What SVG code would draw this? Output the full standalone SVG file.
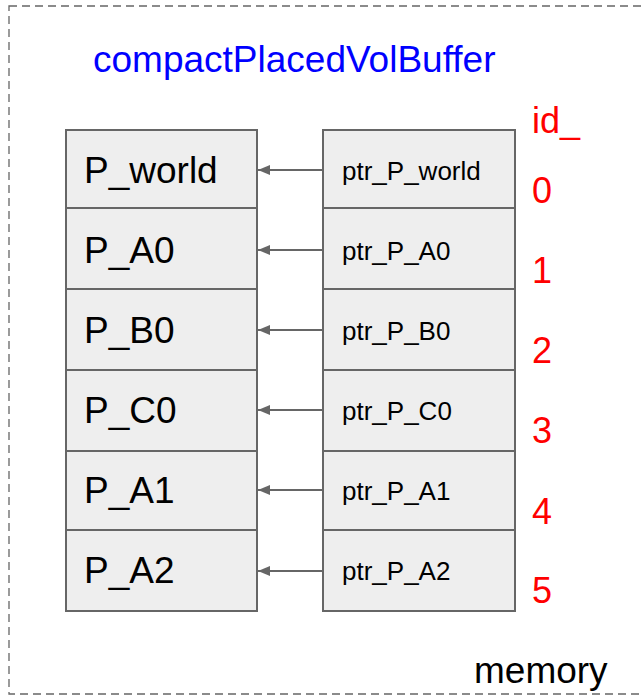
<svg xmlns="http://www.w3.org/2000/svg" width="642" height="698" viewBox="0 0 642 698">
<defs>
<style>
.box{fill:#eeeeee;stroke:#666666;stroke-width:2}
.big{font-family:"Liberation Sans",Arial,sans-serif;font-size:37px;fill:#000}
.small{font-family:"Liberation Sans",Arial,sans-serif;font-size:26px;fill:#000}
.id{font-family:"Liberation Sans",Arial,sans-serif;font-size:36px;fill:#ff0000}
.conn{stroke:#666666;stroke-width:2;fill:none}
</style>
<marker id="ah" markerWidth="12" markerHeight="10" refX="12" refY="5" orient="auto" markerUnits="userSpaceOnUse">
<path d="M0,0 L12,5 L0,10 Z" fill="#666666"/>
</marker>
</defs>
<rect x="9" y="6" width="660" height="688" fill="none" stroke="#666666" stroke-width="1.3" stroke-dasharray="8,5"/>
<text x="93" y="72" font-family="Liberation Sans,Arial,sans-serif" font-size="37" fill="#0000ff">compactPlacedVolBuffer</text>
<text class="id" x="532" y="133">id_</text>
<text class="big" x="474" y="683">memory</text>
<g id="n_P_world"><rect class="box" x="66" y="130" width="191" height="78"/><text class="big" x="84" y="183">P_world</text></g>
<g id="n_P_A0"><rect class="box" x="66" y="208" width="191" height="81"/><text class="big" x="84" y="263">P_A0</text></g>
<g id="n_P_B0"><rect class="box" x="66" y="289" width="191" height="81"/><text class="big" x="84" y="343">P_B0</text></g>
<g id="n_P_C0"><rect class="box" x="66" y="370" width="191" height="81"/><text class="big" x="84" y="423">P_C0</text></g>
<g id="n_P_A1"><rect class="box" x="66" y="451" width="191" height="79"/><text class="big" x="84" y="503">P_A1</text></g>
<g id="n_P_A2"><rect class="box" x="66" y="530" width="191" height="81"/><text class="big" x="84" y="583">P_A2</text></g>
<g id="n_ptr_P_world"><rect class="box" x="323" y="130" width="192" height="78"/><text class="small" x="342" y="180">ptr_P_world</text></g>
<g id="n_ptr_P_A0"><rect class="box" x="323" y="208" width="192" height="81"/><text class="small" x="342" y="260">ptr_P_A0</text></g>
<g id="n_ptr_P_B0"><rect class="box" x="323" y="289" width="192" height="81"/><text class="small" x="342" y="340">ptr_P_B0</text></g>
<g id="n_ptr_P_C0"><rect class="box" x="323" y="370" width="192" height="81"/><text class="small" x="342" y="420">ptr_P_C0</text></g>
<g id="n_ptr_P_A1"><rect class="box" x="323" y="451" width="192" height="79"/><text class="small" x="342" y="500">ptr_P_A1</text></g>
<g id="n_ptr_P_A2"><rect class="box" x="323" y="530" width="192" height="81"/><text class="small" x="342" y="580">ptr_P_A2</text></g>
<g id="ids">
<text class="id" x="532" y="203">0</text>
<text class="id" x="532" y="283">1</text>
<text class="id" x="532" y="363">2</text>
<text class="id" x="532" y="443">3</text>
<text class="id" x="532" y="524">4</text>
<text class="id" x="532" y="603">5</text>
</g>
<g id="connectors">
<line class="conn" x1="323" y1="170" x2="258" y2="170" marker-end="url(#ah)"/>
<line class="conn" x1="323" y1="250" x2="258" y2="250" marker-end="url(#ah)"/>
<line class="conn" x1="323" y1="330" x2="258" y2="330" marker-end="url(#ah)"/>
<line class="conn" x1="323" y1="410" x2="258" y2="410" marker-end="url(#ah)"/>
<line class="conn" x1="323" y1="490" x2="258" y2="490" marker-end="url(#ah)"/>
<line class="conn" x1="323" y1="571" x2="258" y2="571" marker-end="url(#ah)"/>
</g>
</svg>
